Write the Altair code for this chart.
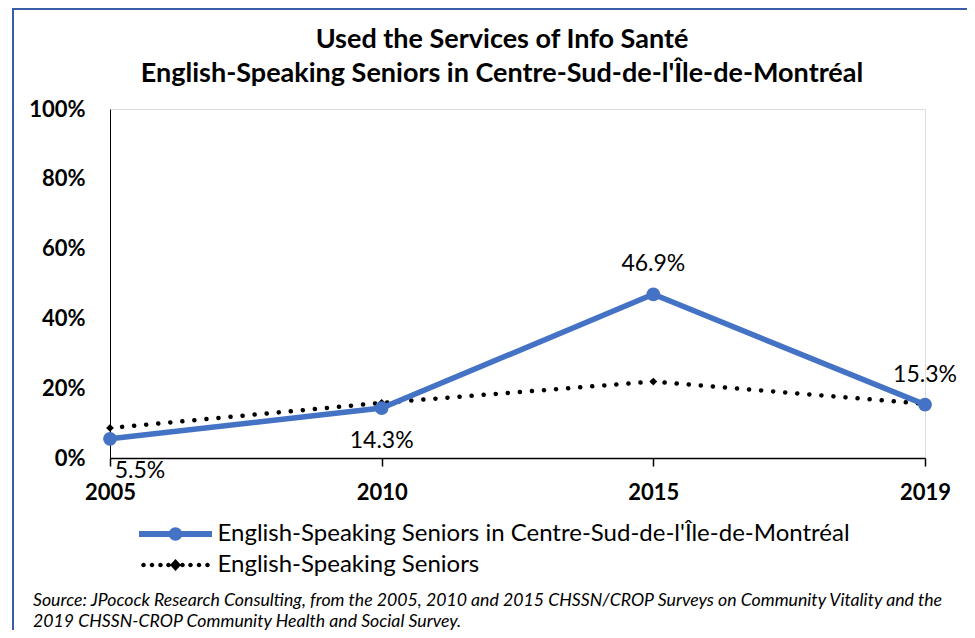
import altair as alt
import pandas as pd

# ---- data ----
years = ["2005", "2010", "2015", "2019"]
region_values = [0.055, 0.143, 0.469, 0.153]   # English-Speaking Seniors in Centre-Sud
all_values = [0.086, 0.158, 0.219, 0.155]      # English-Speaking Seniors (all)
series_names = [
    "English-Speaking Seniors in Centre-Sud-de-l'Île-de-Montréal",
    "English-Speaking Seniors",
]
y_ticks = [0, 0.2, 0.4, 0.6, 0.8, 1.0]
title_lines = [
    "Used the Services of Info Santé",
    "English-Speaking Seniors in Centre-Sud-de-l'Île-de-Montréal",
]
source_lines = [
    "Source: JPocock Research Consulting, from the 2005, 2010  and 2015  CHSSN/CROP Surveys on Community Vitality and the",
    "2019  CHSSN-CROP Community Health and Social Survey.",
]

BLUE = "#4472C4"
FONT = "Lato"

rows = []
for i, y in enumerate(years):
    rows.append({"year": y, "value": region_values[i], "series": series_names[0], "idx": i})
    rows.append({"year": y, "value": all_values[i], "series": series_names[1], "idx": i})
df = pd.DataFrame(rows)


def circle(cx, r):
    return (f"M{cx + r:.3f},0A{r:.3f},{r:.3f},0,1,1,{cx - r:.3f},0"
            f"A{r:.3f},{r:.3f},0,1,1,{cx + r:.3f},0Z")


# legend symbols (unit = sqrt(symbolSize)/2 = 10 px)
sym_region = "M-3.65,-0.3H3.65V0.3H-3.65Z" + circle(0, 0.675)
sym_all = "".join(circle(s * d, 0.23) for d in [3.2, 2.35, 1.5, 0.7] for s in (-1, 1))
sym_all += "M0,-0.6L0.55,0L0,0.6L-0.55,0Z"

x_enc = alt.X(
    "year:N", sort=years, title=None,
    scale=alt.Scale(type="point", padding=0),
    axis=alt.Axis(labelAngle=0, labelFont=FONT, labelFontSize=22, labelFontWeight="bold",
                  labelColor="black", domainColor="black", domainWidth=1.5,
                  tickColor="black", tickSize=8, tickWidth=1.5, labelPadding=16,
                  grid=False),
)
y_enc = alt.Y(
    "value:Q", title=None,
    scale=alt.Scale(domain=[0, 1]),
    axis=alt.Axis(values=y_ticks, format=".0%", labelFont=FONT, labelFontSize=22,
                  labelFontWeight="bold", labelColor="black", domainColor="black",
                  ticks=False, tickSize=0, labelPadding=25, grid=False),
)

base = alt.Chart(df)
is_region = alt.datum.series == series_names[0]
is_all = alt.datum.series == series_names[1]

all_line = base.transform_filter(is_all).mark_line(
    color="black", strokeWidth=4.5, strokeDash=[0.1, 12], strokeCap="round"
).encode(x=x_enc, y=y_enc)
all_pts = base.transform_filter(is_all).mark_point(
    shape="diamond", filled=True, color="black", size=60, opacity=1
).encode(x=x_enc, y=y_enc)

region_line = base.transform_filter(is_region).mark_line(
    color=BLUE, strokeWidth=5.5
).encode(x=x_enc, y=y_enc)
region_pts = base.transform_filter(is_region).mark_point(
    shape="circle", filled=True, color=BLUE, size=190, opacity=1
).encode(x=x_enc, y=y_enc)

lbl_style = dict(font=FONT, fontSize=23, color="black")
txt = alt.Text("value:Q", format=".1%")
lbl_first = base.transform_filter(is_region & (alt.datum.idx == 0)).mark_text(
    dx=30, dy=32, **lbl_style).encode(x=x_enc, y=y_enc, text=txt)
lbl_below = base.transform_filter(is_region & (alt.datum.idx == 1)).mark_text(
    dy=33, **lbl_style).encode(x=x_enc, y=y_enc, text=txt)
lbl_above = base.transform_filter(is_region & (alt.datum.idx >= 2)).mark_text(
    dy=-30, **lbl_style).encode(x=x_enc, y=y_enc, text=txt)

legend_def = alt.Legend(
    title=None, orient="none", legendX=53.5, legendY=413, direction="vertical",
    symbolSize=400, symbolStrokeWidth=0, labelFont=FONT, labelFontSize=24,
    labelColor="black", labelOffset=30, labelLimit=900, rowPadding=7, padding=0,
    symbolOpacity=1,
)
legend_layer = base.transform_filter("false").mark_point(filled=True, opacity=1).encode(
    x=x_enc, y=y_enc,
    color=alt.Color("series:N", scale=alt.Scale(domain=series_names, range=[BLUE, "black"]),
                    legend=legend_def),
    shape=alt.Shape("series:N", scale=alt.Scale(domain=series_names, range=[sym_region, sym_all]),
                    legend=legend_def),
)

one = alt.Chart(pd.DataFrame({"k": [0]}))
title = one.mark_text(
    align="center", baseline="alphabetic", font=FONT, fontSize=27, fontWeight="bold",
    color="black", lineHeight=34,
).encode(x=alt.value(392), y=alt.value(-61), text=alt.value(title_lines))
source = one.mark_text(
    align="left", baseline="middle", font=FONT, fontSize=17.7, fontStyle="italic",
    color="black", lineHeight=21,
).encode(x=alt.value(-77), y=alt.value(492), text=alt.value(source_lines))
frame = one.mark_rect(fill="transparent", stroke="#3A5DA8", strokeWidth=2).encode(
    x=alt.value(-97), x2=alt.value(858), y=alt.value(-100), y2=alt.value(560)
)

chart = alt.layer(
    frame, all_line, all_pts, region_line, region_pts,
    lbl_first, lbl_below, lbl_above, legend_layer, title, source,
).properties(
    width=815, height=349,
    padding={"left": 102, "top": 101, "right": 42, "bottom": 172},
    autosize=alt.AutoSizeParams(type="none"),
).configure_view(stroke=None).configure(background="white")

chart.save("out.html", embed_options={"renderer": "svg", "actions": False})
